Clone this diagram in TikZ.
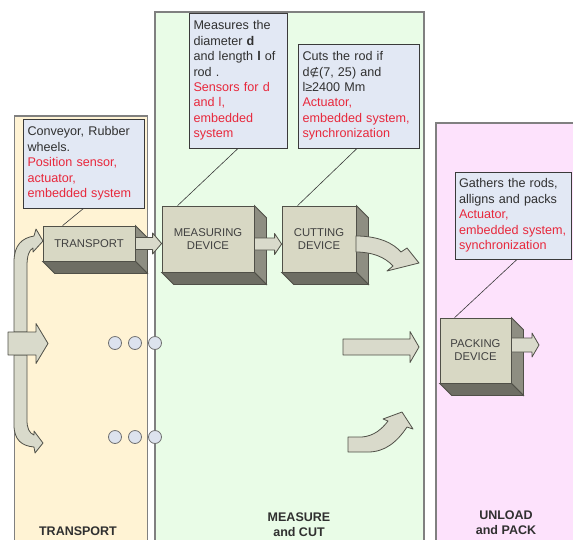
\documentclass[tikz,border=0pt]{standalone}
\usepackage{fontspec}
\setmainfont{Liberation Sans}
\newfontfamily\symfont{DejaVu Sans}
\usepackage{tikz}
\usetikzlibrary{positioning,calc}
\definecolor{TrnFill}{HTML}{FFF3D4}
\definecolor{MeaFill}{HTML}{E9FCE7}
\definecolor{PakFill}{HTML}{FDE2FC}
\definecolor{PanelLine}{HTML}{808080}
\definecolor{NoteFill}{HTML}{E2E8F4}
\definecolor{NoteLine}{HTML}{3A3A3A}
\definecolor{NoteRed}{HTML}{E8283C}
\definecolor{TextDark}{HTML}{303030}
\definecolor{DevText}{HTML}{404040}
\definecolor{DevFront}{HTML}{D8D8C4}
\definecolor{DevSide}{HTML}{8E8E82}
\definecolor{DevBottom}{HTML}{6E6E64}
\definecolor{ArrowFill}{HTML}{D9DACB}
\definecolor{ArrowLine}{HTML}{505048}
\definecolor{DotFill}{HTML}{DDE3EE}
\definecolor{DotLine}{HTML}{707070}

% right and bottom faces of a device box
\newcommand\extrude[1]{%
  \filldraw[draw=ArrowLine,fill=DevSide,line width=0.8pt] (#1.north east) -- ++(12,12)
    -- ($(#1.south east)+(12,12)$) -- (#1.south east) -- cycle;
  \filldraw[draw=ArrowLine,fill=DevBottom,line width=0.8pt] (#1.south west) -- (#1.south east)
    -- ($(#1.south east)+(12,12)$) -- ($(#1.south west)+(12,12)$) -- cycle;}
% straight block arrow: start, tip, shaft half, head half, head length
\newcommand\fatarrow[5]{%
  \filldraw[fatarrow] ($(#1)+(0,-#3)$) -- ($(#2)+(-#5,-#3)$) -- ($(#2)+(-#5,-#4)$) -- (#2)
    -- ($(#2)+(-#5,#4)$) -- ($(#2)+(-#5,#3)$) -- ($(#1)+(0,#3)$) -- cycle;}

\begin{document}
\begin{tikzpicture}[x=1pt,y=-1pt,>=stealth]
  \tikzstyle{panel}=[draw=PanelLine,line width=1.2pt]
  \tikzstyle{note}=[draw=NoteLine,fill=NoteFill,line width=0.9pt,align=left,
    inner xsep=4.5pt,inner ysep=0pt,text=TextDark,font=\fontsize{12.6}{15.4}\selectfont]
  \tikzstyle{device}=[draw=ArrowLine,fill=DevFront,line width=0.8pt,align=center,
    text=DevText,font=\fontsize{11.3}{13}\selectfont]
  \tikzstyle{fatarrow}=[draw=ArrowLine,fill=ArrowFill,line width=0.8pt,line join=round]
  \tikzstyle{dot}=[circle,draw=DotLine,fill=DotFill,minimum size=13pt,inner sep=0pt,line width=0.8pt]
  \tikzstyle{zone}=[font=\bfseries\fontsize{12.5}{15}\selectfont,align=center,text=TextDark]
  \tikzstyle{pointer}=[draw=NoteLine,line width=0.6pt]

  \useasboundingbox (0,0) rectangle (573,539);
  \clip (0,0) rectangle (573,539);

  % stage panels
  \draw[panel,fill=TrnFill] (14.5,560) -- (14.5,116) -- (147.5,116) -- (147.5,560);
  \draw[panel,fill=MeaFill] (155,560) -- (155,12) -- (424,12) -- (424,560);
  \draw[panel,fill=PakFill] (436,560) -- (436,123) -- (590,123) -- (590,560);
  \node[zone] (ztrn) at (78,531) {TRANSPORT};
  \node[zone] (zmea) at (299,524.5) {MEASURE\\and CUT};
  \node[zone] (zpak) at (506,522.5) {UNLOAD\\and PACK};

  % notes
  \node[note,minimum width=121pt,minimum height=89pt,text width=112pt] (conv) at (83.5,163.5)
    {Conveyor, Rubber\\wheels.\\\color{NoteRed}Position sensor,\\actuator,\\embedded system};
  \node[note,minimum width=98pt,minimum height=135pt,text width=89pt] (meas) at (238,80.5)
    {Measures the\\diameter \textbf{d}\\and length \textbf{l} of\\rod .\\
     \color{NoteRed}Sensors for d\\and l,\\embedded\\system};
  \node[note,minimum width=121pt,minimum height=104pt,text width=112pt] (cuts) at (358.5,96)
    {Cuts the rod if\\d{\symfont\fontsize{11}{15}\selectfont ∉}(7, 25) and\\l≥2400 Mm\\
     \color{NoteRed}Actuator,\\embedded system,\\synchronization};
  \node[note,minimum width=116pt,minimum height=87pt,text width=108pt,inner xsep=4pt] (gath) at (513,215.5)
    {Gathers the rods,\\alligns and packs\\\color{NoteRed}Actuator,\\embedded system,\\synchronization};

  % devices
  \node[device,minimum width=92pt,minimum height=35pt] (trn) at (89,243.5) {TRANSPORT};
  \node[device,minimum width=92pt,minimum height=66pt] (mdev) at (208,239) {MEASURING\\DEVICE};
  \node[device,minimum width=74pt,minimum height=66pt] (cdev) at (319,239) {CUTTING\\DEVICE};
  \node[device,minimum width=71pt,minimum height=65pt] (pdev) at (475.5,350.5) {PACKING\\DEVICE};
  \extrude{trn}
  \extrude{mdev}
  \extrude{cdev}
  \extrude{pdev}

  \draw[pointer] (conv.south) -- ([xshift=20pt]trn.north west);
  \draw[pointer] (meas.south) -- ([xshift=16pt]mdev.north west);
  \draw[pointer] ([xshift=-1.5pt]cuts.south) -- ([xshift=16pt]cdev.north west);
  \draw[pointer] ([xshift=4pt]gath.south) -- ([xshift=15pt]pdev.north west);

  % block arrows
  \coordinate (a1t) at (trn.east -| mdev.west);
  \coordinate (a2s) at ($(mdev.east)+(0,5)$);
  \coordinate (a2t) at ($(cdev.west)+(0,5)$);
  \coordinate (a3s) at ($(pdev.east)+(0,-5.5)$);
  \coordinate (a3t) at (539,345);
  \coordinate (feed) at (8,343.5);
  \coordinate (feedtip) at (48,343.5);
  \coordinate (pass) at (343,347);
  \coordinate (passtip) at (419,347);
  \fatarrow{trn.east}{a1t}{6}{10.5}{9}
  \fatarrow{a2s}{a2t}{6}{10.5}{7}
  \fatarrow{a3s}{a3t}{7}{12}{7}
  \fatarrow{pass}{passtip}{8}{15.5}{9}
  % curved arrows
  \filldraw[fatarrow] (356,236) .. controls (380,236) and (394,244) .. (401,252) -- (407,248)
    -- (419,263) -- (387,271) -- (393,266) .. controls (385,257) and (372,252) .. (356,252) -- cycle;
  \filldraw[fatarrow] (348,437) -- (362,437) .. controls (374,436) and (382,429) .. (388,421)
    -- (383,419) -- (402,412) -- (413,429) -- (407,427) .. controls (397,442) and (385,452) .. (368,452)
    -- (348,452) -- cycle;
  \filldraw[fatarrow] (14,332) -- (14,262) .. controls (14,245) and (22,238) .. (34,236) -- (36,229)
    -- (43,241) -- (33,252) -- (33,248) .. controls (29,250) and (27,256) .. (27,266) -- (27,332) -- cycle;
  \filldraw[fatarrow] (14,355) -- (14,425) .. controls (14,440) and (22,446) .. (34,447) -- (35,453)
    -- (43,443) -- (34,431) -- (34,435) .. controls (29,433) and (27,428) .. (27,420) -- (27,355) -- cycle;
  \fatarrow{feed}{feedtip}{11.5}{20}{12}

  % rod dots
  \foreach \i/\x in {1/115,2/135,3/155} {
    \node[dot] (up\i) at (\x,343) {};
    \node[dot] (lo\i) at (\x,437) {};
  }
\end{tikzpicture}
\end{document}
